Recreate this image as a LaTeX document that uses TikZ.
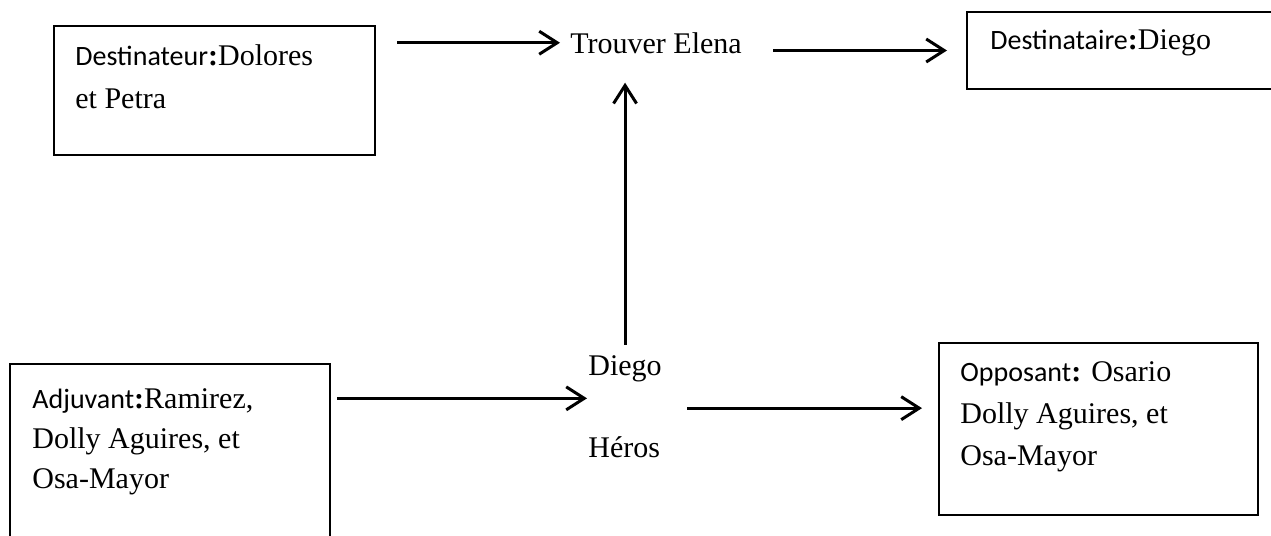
\documentclass[tikz,border=0pt]{standalone}
\usepackage{fontspec}
\setmainfont{Liberation Serif}
\newfontfamily\calib{Carlito}
\usetikzlibrary{arrows.meta}
\newlength{\du}
\setlength{\du}{0.5pt}
\newcommand{\rolelbl}[1]{{\calib\fontsize{14}{21}\selectfont #1}\textbf{:}}

\begin{document}
\begin{tikzpicture}[
  box/.style={draw=dialinecolor, line width=1pt, inner sep=0pt},
  txt/.style={inner sep=0pt, align=left, font=\fontsize{15}{21}\selectfont},
  arr/.style={draw=dialinecolor, line width=1.5pt, -{Straight Barb[length=9pt,width=11.5pt]}}]
\pgftransformyscale{-1}
\definecolor{dialinecolor}{rgb}{0.000000, 0.000000, 0.000000}
\pgfsetstrokecolor{dialinecolor}
\clip (0\du,0\du) rectangle (1271\du,536\du);
% destinateur
\node[box, minimum width=321\du, minimum height=129\du] (dtr) at (214.5\du,90.5\du) {};
\node[txt, anchor=base west, font=\fontsize{15}{21.5}\selectfont] (dtrtext) at (75\du,108\du) {\rolelbl{Destinateur}Dolores\\et Petra};
% destinataire (runs past the right edge)
\node[box, minimum width=323\du, minimum height=77\du] (dta) at (1128.5\du,50.5\du) {};
\node[txt, anchor=base west] (dtatext) at (990\du,49\du) {\rolelbl{Destinataire}Diego};
% objet, sujet
\node[txt, anchor=base west] (trouver) at (570\du,53\du) {Trouver Elena};
\node[txt, anchor=base west] (hero) at (588\du,457\du) {Diego\\[20pt]Héros};
% adjuvant (runs past the bottom edge)
\node[box, minimum width=320\du, minimum height=196\du] (adj) at (170\du,462\du) {};
\node[txt, anchor=base west, font=\fontsize{15}{20}\selectfont] (adjtext) at (32\du,488\du) {\rolelbl{Adjuvant}Ramirez,\\Dolly Aguires, et\\Osa-Mayor};
% opposant
\node[box, minimum width=319\du, minimum height=172\du] (opp) at (1098.5\du,429\du) {};
\node[txt, anchor=base west] (opptext) at (960\du,465\du) {\rolelbl{Opposant} Osario\\Dolly Aguires, et\\Osa-Mayor};
% arrows
\draw[arr, shorten <=10.5pt, shorten >=5pt] (trouver.west -| dtr.east) -- (trouver.west);
\draw[arr, shorten <=15.5pt, shorten >=9.5pt] (trouver.east |- dta.west) -- (dta.west);
\draw[arr, shorten <=5pt, shorten >=14.5pt] (hero.north) -- (hero.north |- trouver.south);
\draw[arr, shorten <=3pt, shorten >=0.5pt] (hero.168 -| adj.east) -- (hero.168);
\draw[arr, shorten <=12.5pt, shorten >=8pt] (hero.-3) -- (hero.-3 -| opp.west);
\end{tikzpicture}
\end{document}
